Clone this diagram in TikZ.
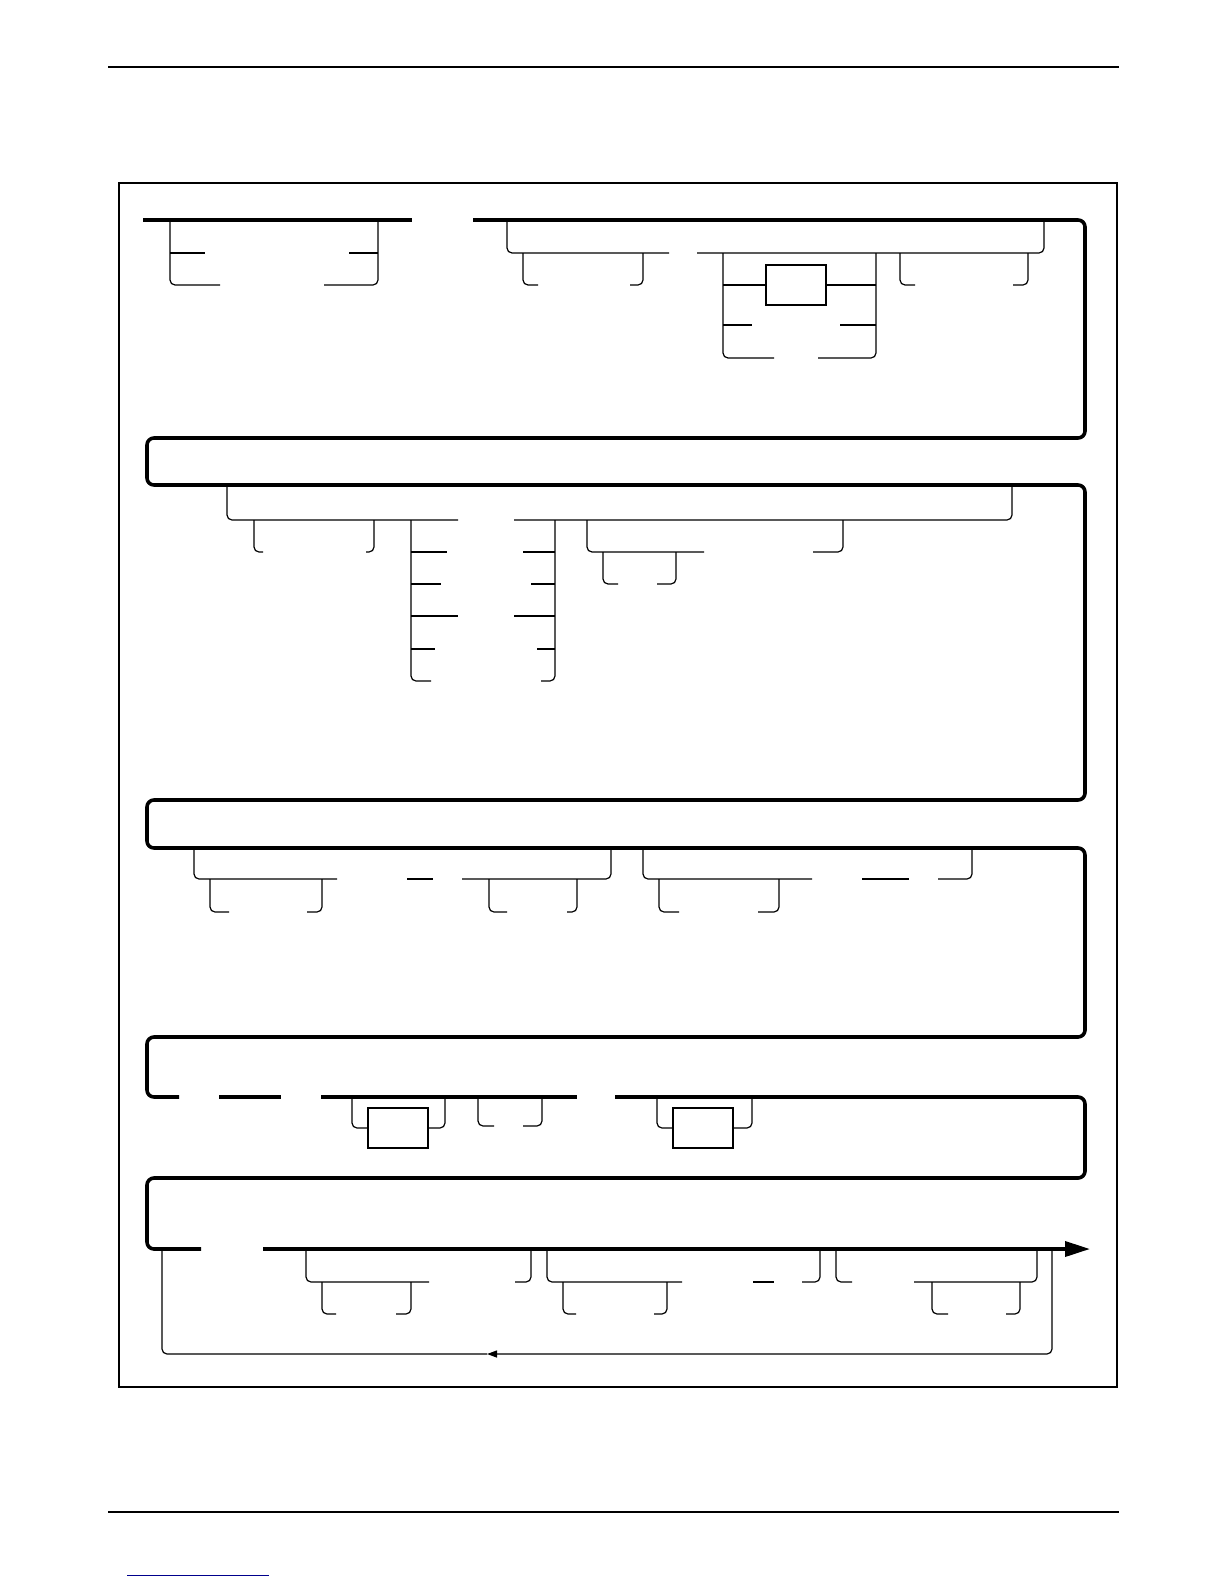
\documentclass[tikz,border=0pt]{standalone}
\usetikzlibrary{arrows.meta}
\begin{document}
\begin{tikzpicture}[x=1pt,y=-1pt,
    mainline/.style={line width=3.6pt,rounded corners=7pt},
    branch/.style={line width=1.2pt,rounded corners=5pt},
    optbox/.style={draw,line width=2pt,minimum width=60pt,minimum height=40pt,inner sep=0pt},
    frameline/.style={line width=1.8pt}]
    \useasboundingbox (0,0) rectangle (1224,1584);
    % page rules and frame
    \draw[line width=1.2pt] (108,67) -- (1119,67);
    \draw[line width=1.2pt] (108,1512) -- (1119,1512);
    \draw[line width=1pt,blue!55!black] (127,1575) -- (269,1575);
    \draw[frameline] (119,183) rectangle (1117,1387);
    % main line
    \draw[mainline] (143,220) -- (412,220);
    \draw[mainline] (473,220) -- (1085,220) -- (1085,438) -- (147,438) -- (147,485)
        -- (1085,485) -- (1085,800) -- (147,800) -- (147,848) -- (1085,848)
        -- (1085,1037) -- (147,1037) -- (147,1097) -- (179,1097);
    \draw[mainline] (219,1097) -- (281,1097);
    \draw[mainline] (321,1097) -- (577,1097);
    \draw[mainline] (615,1097) -- (1085,1097) -- (1085,1178) -- (147,1178) -- (147,1249) -- (201,1249);
    \draw[line width=3.6pt,-{Triangle[length=25pt,width=15pt]}] (263,1249) -- (1090,1249);
    % row 1
    \draw[branch] (170,220) |- (220,285);
    \draw[branch] (170,253) -- (205,253);
    \draw[branch] (324,285) -| (378,220);
    \draw[branch] (349,253) -- (378,253);
    \draw[branch] (507,220) |- (669,253);
    \draw[branch] (697,253) -| (1044,220);
    \draw[branch] (523,253) |- (538,285);
    \draw[branch] (630,285) -| (643,253);
    \node[optbox] (box0) at (796,285) {};
    \draw[branch] (723,253) |- (774,358);
    \draw[branch] (818,358) -| (876,253);
    \draw[branch] (723,285) -- (box0.west);
    \draw[branch] (box0.east) -- (876,285);
    \draw[branch] (723,325) -- (752,325);
    \draw[branch] (840,325) -- (876,325);
    \draw[branch] (900,253) |- (915,285);
    \draw[branch] (1013,285) -| (1028,253);
    % row 2
    \draw[branch] (227,485) |- (458,520);
    \draw[branch] (514,520) -| (1012,485);
    \draw[branch] (254,520) |- (263,552);
    \draw[branch] (366,552) -| (374,520);
    \draw[branch] (411,520) |- (431,681);
    \draw[branch] (541,681) -| (555,520);
    \draw[branch] (411,552) -- (447,552);
    \draw[branch] (411,584) -- (441,584);
    \draw[branch] (411,616) -- (458,616);
    \draw[branch] (411,649) -- (435,649);
    \draw[branch] (523,552) -- (555,552);
    \draw[branch] (531,584) -- (555,584);
    \draw[branch] (514,616) -- (555,616);
    \draw[branch] (537,649) -- (555,649);
    \draw[branch] (587,520) |- (704,552);
    \draw[branch] (813,552) -| (843,520);
    \draw[branch] (603,552) |- (618,584);
    \draw[branch] (657,584) -| (676,552);
    % row 3
    \draw[branch] (194,848) |- (337,879);
    \draw[branch] (407,879) -- (433,879);
    \draw[branch] (462,879) -| (611,848);
    \draw[branch] (210,879) |- (229,912);
    \draw[branch] (307,912) -| (322,879);
    \draw[branch] (489,879) |- (507,912);
    \draw[branch] (567,912) -| (577,879);
    \draw[branch] (643,848) |- (812,879);
    \draw[branch] (862,879) -- (909,879);
    \draw[branch] (938,879) -| (972,848);
    \draw[branch] (659,879) |- (679,912);
    \draw[branch] (758,912) -| (779,879);
    % row 4
    \node[optbox] (box1) at (398,1128) {};
    \node[optbox] (box2) at (703,1128) {};
    \draw[branch] (352,1097) |- (box1.west);
    \draw[branch] (box1.east) -| (445,1097);
    \draw[branch] (478,1097) |- (494,1126);
    \draw[branch] (523,1126) -| (542,1097);
    \draw[branch] (657,1097) |- (box2.west);
    \draw[branch] (box2.east) -| (752,1097);
    % row 5
    \coordinate (loopR) at (1052,1249);
    \coordinate (loopM) at (487,1354);
    \coordinate (loopL) at (162,1249);
    \draw[branch,-{Triangle[length=10pt,width=7pt]}] (loopR) |- (loopM);
    \draw[branch] (loopM) -| (loopL);
    \draw[branch] (306,1249) |- (429,1282);
    \draw[branch] (515,1282) -| (531,1249);
    \draw[branch] (322,1282) |- (336,1314);
    \draw[branch] (396,1314) -| (411,1282);
    \draw[branch] (547,1249) |- (682,1282);
    \draw[branch] (753,1282) -- (774,1282);
    \draw[branch] (802,1282) -| (820,1249);
    \draw[branch] (563,1282) |- (576,1314);
    \draw[branch] (654,1314) -| (667,1282);
    \draw[branch] (836,1249) |- (852,1282);
    \draw[branch] (914,1282) -| (1037,1249);
    \draw[branch] (932,1282) |- (948,1314);
    \draw[branch] (1006,1314) -| (1020,1282);
\end{tikzpicture}
\end{document}
